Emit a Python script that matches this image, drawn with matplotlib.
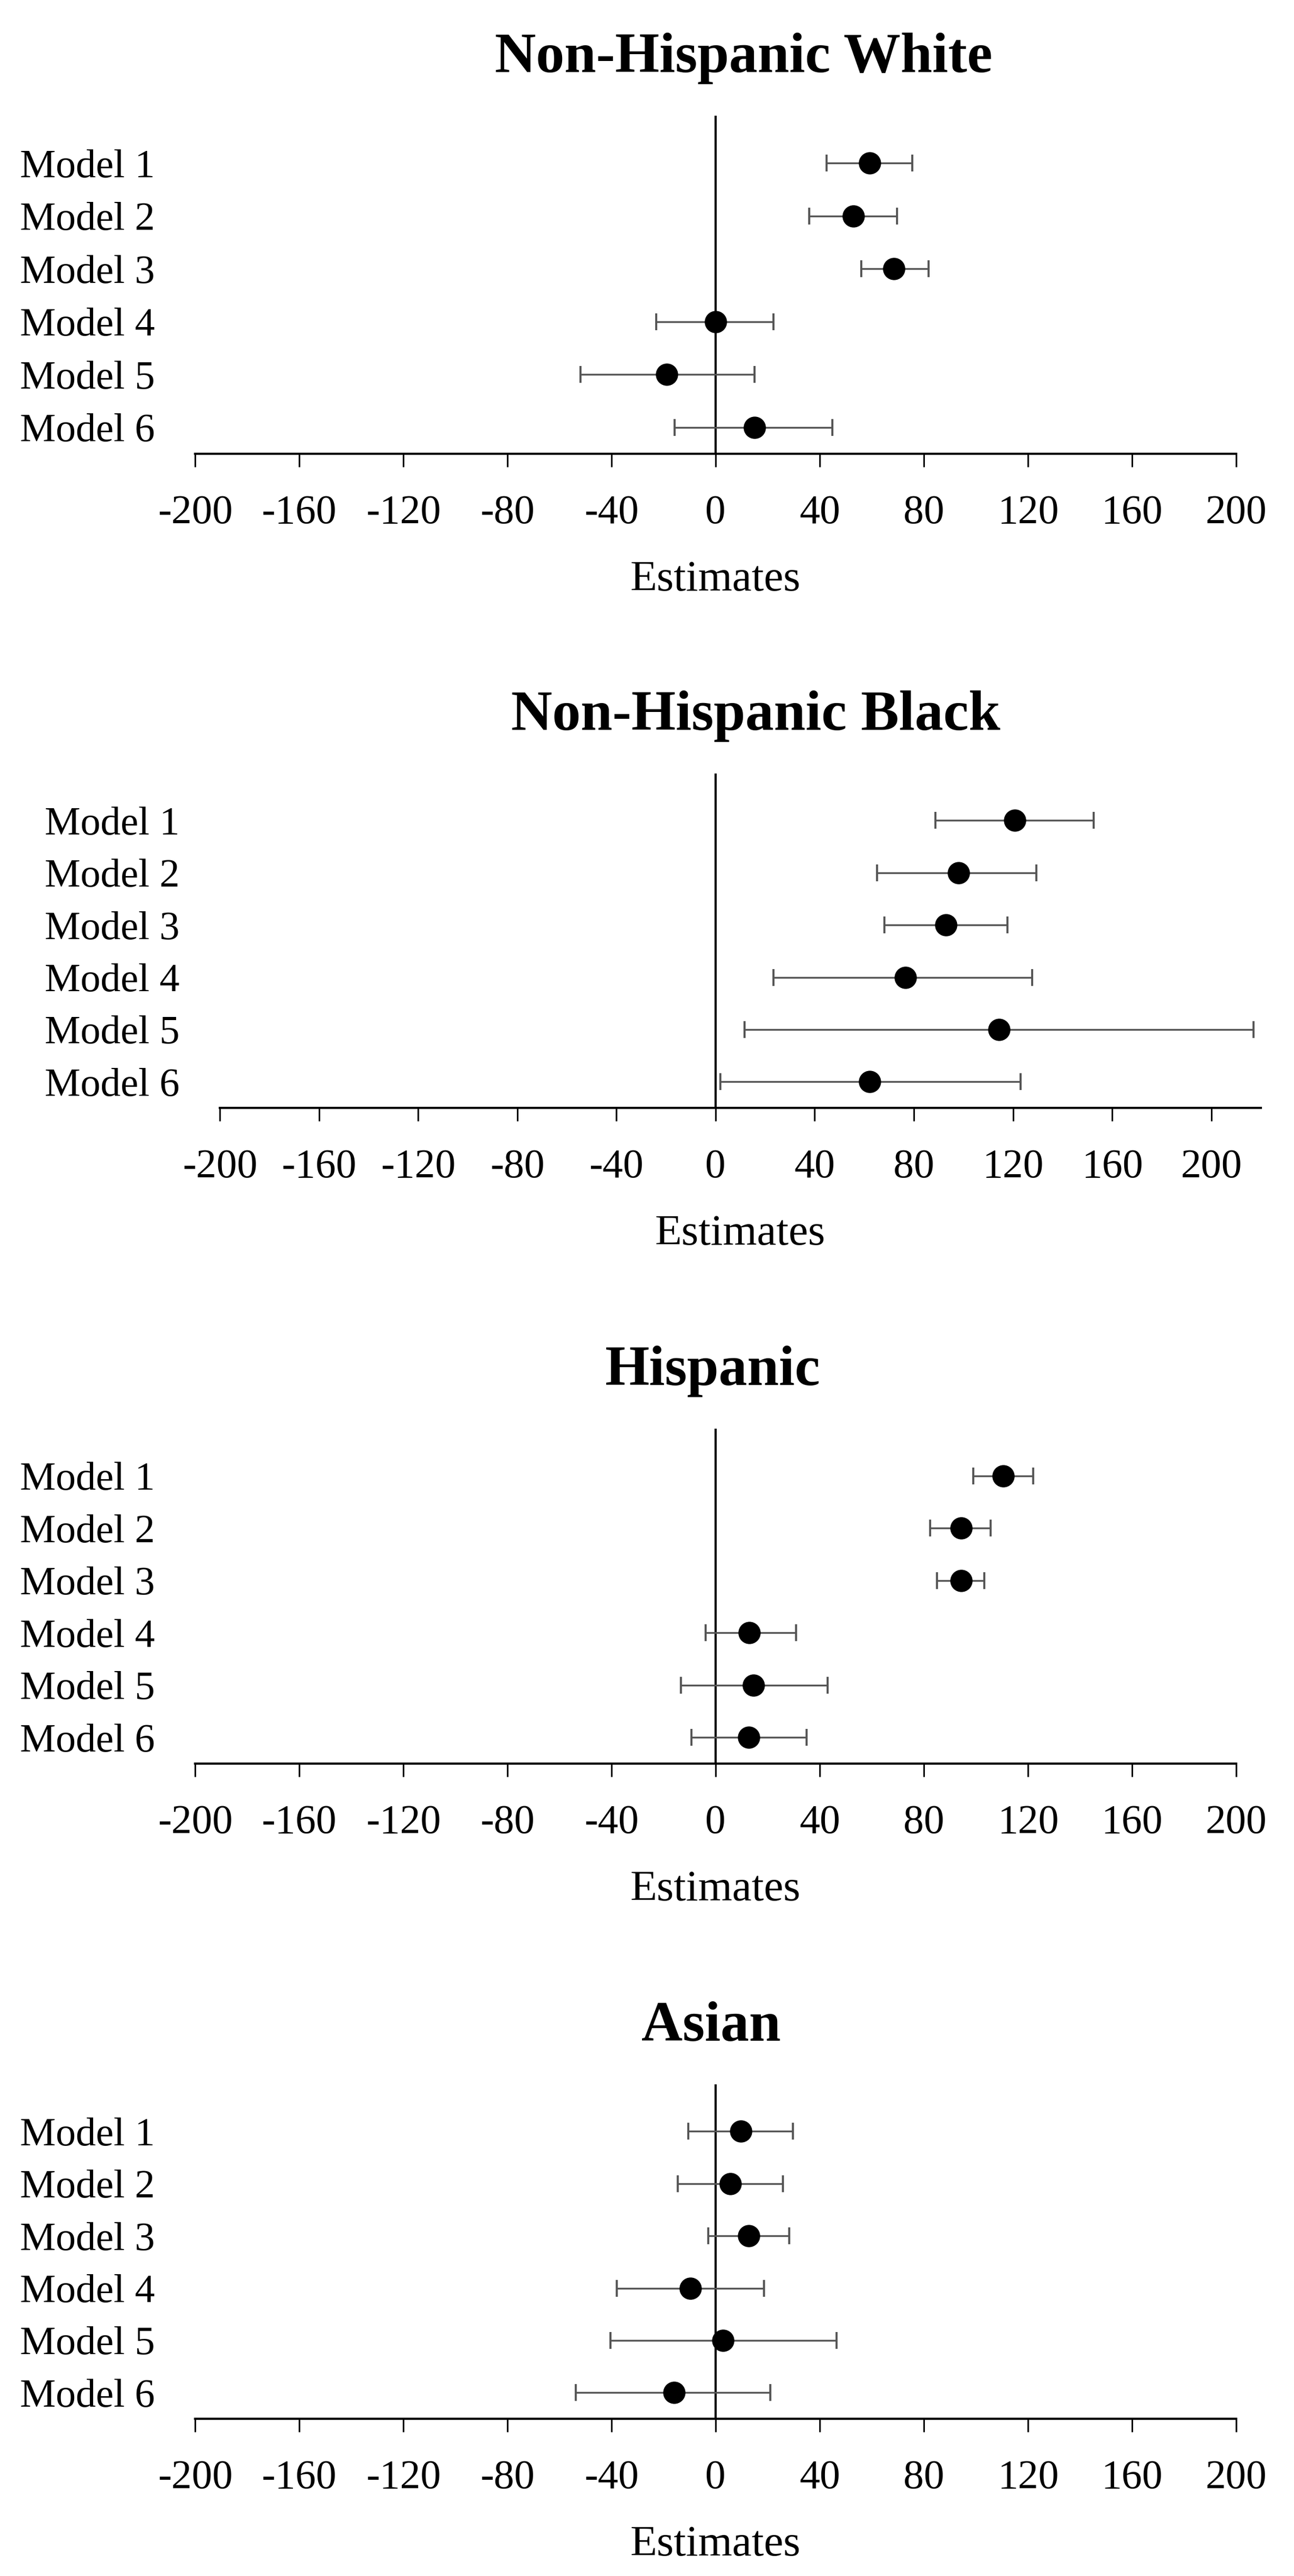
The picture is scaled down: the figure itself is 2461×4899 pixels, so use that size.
import matplotlib
matplotlib.use("Agg")
import matplotlib.pyplot as plt
import numpy as np

plt.rcParams['font.family'] = ['Liberation Serif', 'DejaVu Serif']

models = ["Model 1", "Model 2", "Model 3", "Model 4", "Model 5", "Model 6"]
xticks = [-200, -160, -120, -80, -40, 0, 40, 80, 120, 160, 200]

titles = ["Non-Hispanic White", "Non-Hispanic Black", "Hispanic", "Asian"]

nhw_est = [59.2, 52.9, 68.5, 0.0, -18.8, 15.0]
nhw_lo = [42.7, 36.0, 56.0, -22.9, -51.9, -15.8]
nhw_hi = [75.5, 69.7, 81.8, 22.3, 15.0, 44.9]

nhb_est = [120.7, 98.0, 93.0, 76.6, 114.4, 62.2]
nhb_lo = [88.6, 65.2, 68.2, 23.4, 11.7, 2.0]
nhb_hi = [152.5, 129.4, 117.7, 127.8, 217.0, 123.0]

his_est = [110.5, 94.3, 94.3, 13.0, 14.6, 12.7]
his_lo = [99.0, 82.5, 85.0, -3.8, -13.4, -9.2]
his_hi = [122.0, 105.7, 103.2, 30.9, 43.0, 35.0]

asi_est = [9.6, 5.7, 12.7, -9.6, 2.9, -15.9]
asi_lo = [-10.5, -14.6, -2.9, -37.9, -40.4, -53.8]
asi_hi = [29.6, 25.8, 28.3, 18.5, 46.5, 21.0]

panels = [
    (nhw_est, nhw_lo, nhw_hi),
    (nhb_est, nhb_lo, nhb_hi),
    (his_est, his_lo, his_hi),
    (asi_est, asi_lo, asi_hi),
]

W, H = 2461, 4899
fig = plt.figure(figsize=(W / 100, H / 100), dpi=100)

# layout in pixels (left, right, top, bottom), x max, title centre x
layout = [
    (371, 2351, 220, 863, 200, 1414),
    (418, 2398, 1471, 2107, 220, 1437),
    (371, 2351, 2717, 3354, 200, 1355),
    (371, 2351, 3964, 4600, 200, 1352),
]

ypos = np.arange(len(models), 0, -1)  # Model 1 at top

for (est, lo, hi), (l, r, t, b, xmax, tcx), title in zip(panels, layout, titles):
    ax = fig.add_axes([l / W, 1 - b / H, (r - l) / W, (b - t) / H])
    est = np.array(est)
    lo = np.array(lo)
    hi = np.array(hi)
    ax.axvline(0, color='black', lw=3.0, zorder=1)
    ax.errorbar(est, ypos, xerr=[est - lo, hi - est], fmt='none',
                ecolor='#555555', elinewidth=2.5, capsize=11.5, capthick=2.8, zorder=2)
    ax.plot(est, ypos, 'o', color='black', markersize=29.5, zorder=3)
    ax.set_xlim(-200, xmax)
    ax.set_ylim(0.5, 6.9)
    ax.set_xticks(xticks)
    ax.set_xticklabels([str(v) for v in xticks], fontsize=56)
    ax.set_yticks(ypos)
    ax.set_yticklabels(models, fontsize=55)
    ax.tick_params(axis='y', length=0, pad=55)
    ax.tick_params(axis='x', direction='out', length=18, width=2.2, pad=38)
    for s in ['top', 'right', 'left']:
        ax.spines[s].set_visible(False)
    ax.spines['bottom'].set_linewidth(3.0)
    ax.set_xlabel("Estimates", fontsize=60, labelpad=38)
    fig.text(tcx / W, 1 - (t - 83) / H, title, fontsize=78, fontweight='bold',
             ha='center', va='baseline')

fig.savefig("out.png", dpi=100, facecolor='white')
